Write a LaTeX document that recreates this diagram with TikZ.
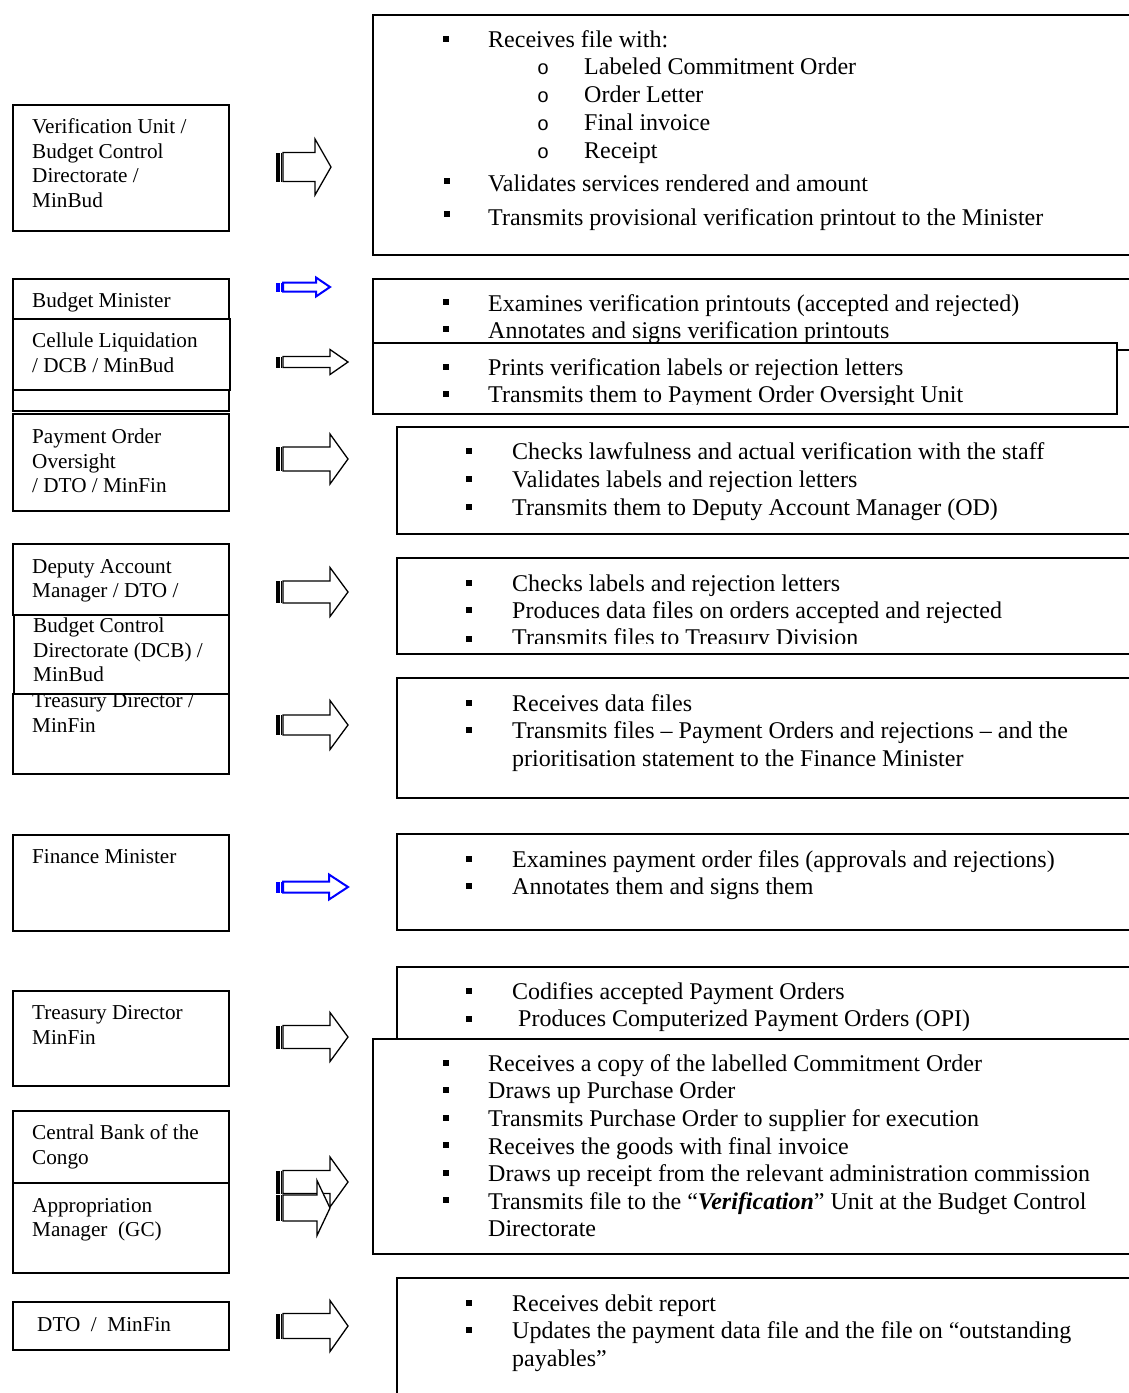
\documentclass[tikz,border=0pt]{standalone}
\usepackage{fontspec}
\setmainfont{Liberation Serif}
\newfontfamily\bulfont{Liberation Mono}
\newcommand{\blkarrow}[7]{%
  \path[#1, draw, fill=white, line join=miter] (#2+7,#4-#5) -- (#7,#4-#5) -- (#7,#4-#6) -- (#3,#4) -- (#7,#4+#6) -- (#7,#4+#5) -- (#2+7,#4+#5) -- cycle;
  \fill[#1] (#2,#4-#5) rectangle (#2+3.6,#4+#5);
  \draw[#1, line width=1pt] (#2+5.4,#4-#5) -- (#2+5.4,#4+#5);
}
\begin{document}
\begin{tikzpicture}[x=1pt,y=-1pt,
  box/.style={draw=black, line width=1.5pt, fill=white, inner sep=0pt, anchor=north west},
  rt/.style={anchor=base west, inner sep=0pt, font=\fontsize{24}{27.6}\selectfont},
  ob/.style={anchor=base west, inner sep=0pt, font=\bulfont\fontsize{20}{24}\selectfont},
  lt/.style={anchor=base west, inner sep=0pt, font=\fontsize{21.2}{24.4}\selectfont},
  bul/.style={fill=black, inner sep=0pt, minimum width=5.5pt, minimum height=6.5pt},
  blk/.style={black, line width=1.3pt},
  blu/.style={blue, line width=2pt}]
\useasboundingbox (0,0) rectangle (1129,1393);
\clip (0,0) rectangle (1129,1393);

% ---------------- left column ----------------
\node[box, minimum width=216pt, minimum height=126pt] (lverif) at (12,104) {};
\node[lt] (tv1) at (32,133) {Verification Unit /};
\node[lt] (tv2) at (32,158) {Budget Control};
\node[lt] (tv3) at (32,182) {Directorate /};
\node[lt] (tv4) at (32,207) {MinBud};

\node[box, minimum width=216pt, minimum height=132pt] (lbm) at (12,278) {};
\node[lt] (tbm) at (32,307) {Budget Minister};
\node[box, minimum width=217pt, minimum height=71pt] (lcell) at (12,318) {};
\node[lt] (tc1) at (32,347) {Cellule Liquidation};
\node[lt] (tc2) at (32,372) {/ DCB / MinBud};

\node[box, minimum width=216pt, minimum height=97pt] (lpo) at (12,413) {};
\node[lt] (tp1) at (32,443) {Payment Order};
\node[lt] (tp2) at (32,468) {Oversight};
\node[lt] (tp3) at (32,492) {/ DTO / MinFin};

\node[box, minimum width=216pt, minimum height=80pt] (ltd) at (12,693) {};
\node[lt] (tt1) at (32,707) {Treasury Director /};
\node[lt] (tt2) at (32,732) {MinFin};
\node[box, minimum width=216pt, minimum height=71pt] (ldam) at (12,543) {};
\node[lt] (td1) at (32,573) {Deputy Account};
\node[lt] (td2) at (32,597) {Manager / DTO /};
\node[box, minimum width=215pt, minimum height=79pt] (ldcb) at (13,614) {};
\node[lt] (tb1) at (33,632) {Budget Control};
\node[lt] (tb2) at (33,657) {Directorate (DCB) /};
\node[lt] (tb3) at (33,681) {MinBud};

\node[box, minimum width=216pt, minimum height=96pt] (lfm) at (12,834) {};
\node[lt] (tf1) at (32,863) {Finance Minister};

\node[box, minimum width=216pt, minimum height=95pt] (ltd2) at (12,990) {};
\node[lt] (tr1) at (32,1019) {Treasury Director};
\node[lt] (tr2) at (32,1044) {MinFin};

\node[box, minimum width=216pt, minimum height=72pt] (lcb) at (12,1110) {};
\node[lt] (tk1) at (32,1139) {Central Bank of the};
\node[lt] (tk2) at (32,1164) {Congo};
\node[box, minimum width=216pt, minimum height=90pt] (lam) at (12,1182) {};
\node[lt] (ta1) at (32,1212) {Appropriation};
\node[lt] (ta2) at (32,1236) {Manager~~(GC)};

\node[box, minimum width=216pt, minimum height=48pt] (ldto) at (12,1301) {};
\node[lt] (tdto) at (37,1331) {DTO~~/~~MinFin};

% ---------------- arrows ----------------
\blkarrow{blk}{276}{331}{167}{14.5}{28}{315}
\blkarrow{blu}{276}{330}{287}{4.5}{9.5}{316}
\blkarrow{blk}{276}{348}{362}{5.5}{12.5}{330}
\blkarrow{blk}{276}{348}{459}{12}{25}{330}
\blkarrow{blk}{276}{348}{592}{11}{24.5}{330}
\blkarrow{blk}{276}{348}{725}{10}{24.5}{330}
\blkarrow{blu}{276}{348}{887}{5.5}{12.5}{329}
\blkarrow{blk}{276}{348}{1037}{11.5}{24.5}{330}
\blkarrow{blk}{276}{348}{1182}{11.5}{25}{330}
\blkarrow{blk}{276}{330}{1208}{13}{27.5}{317}
\blkarrow{blk}{276}{348}{1326}{12.5}{25.5}{330}

% ---------------- right column ----------------
\node[box, minimum width=780pt, minimum height=240pt] (r1) at (372,14) {};
\node[bul] (b11) at (446,39) {};
\node[rt] (r1a) at (488,47) {Receives file with:};
\node[ob] (o1) at (537,74) {o};
\node[rt] (r1b) at (584,74) {Labeled Commitment Order};
\node[ob] (o2) at (537,102) {o};
\node[rt] (r1c) at (584,102) {Order Letter};
\node[ob] (o3) at (537,130) {o};
\node[rt] (r1d) at (584,130) {Final invoice};
\node[ob] (o4) at (537,158) {o};
\node[rt] (r1e) at (584,158) {Receipt};
\node[bul] (b12) at (447,181) {};
\node[rt] (r1f) at (488,191) {Validates services rendered and amount};
\node[bul] (b13) at (447,214) {};
\node[rt] (r1g) at (488,225) {Transmits provisional verification printout to the Minister};

\node[box, minimum width=780pt, minimum height=71pt] (r2) at (372,278) {};
\node[bul] (b21) at (446,302) {};
\node[rt] (r2a) at (488,311) {Examines verification printouts (accepted and rejected)};
\node[bul] (b22) at (446,329) {};
\node[rt] (r2b) at (488,338) {Annotates and signs verification printouts};
\node[box, minimum width=744pt, minimum height=71pt] (r3) at (372,342) {};
\node[bul] (b31) at (446,367) {};
\node[rt] (r3a) at (488,375) {Prints verification labels or rejection letters};
\node[bul] (b32) at (446,394) {};
\begin{scope}
\clip (372,342) rectangle (1116,404);
\node[rt] (r3b) at (488,402) {Transmits them to Payment Order Oversight Unit};
\end{scope}

\node[box, minimum width=760pt, minimum height=107pt] (r4) at (396,426) {};
\node[bul] (b41) at (469,451) {};
\node[rt] (r4a) at (512,459) {Checks lawfulness and actual verification with the staff};
\node[bul] (b42) at (469,479) {};
\node[rt] (r4b) at (512,487) {Validates labels and rejection letters};
\node[bul] (b43) at (469,507) {};
\node[rt] (r4c) at (512,515) {Transmits them to Deputy Account Manager (OD)};

\node[box, minimum width=760pt, minimum height=96pt] (r5) at (396,557) {};
\node[bul] (b51) at (469,583) {};
\node[rt] (r5a) at (512,591) {Checks labels and rejection letters};
\node[bul] (b52) at (469,610) {};
\node[rt] (r5b) at (512,618) {Produces data files on orders accepted and rejected};
\begin{scope}
\clip (396,557) rectangle (1129,643);
\node[bul] (b53) at (469,639) {};
\node[rt] (r5c) at (512,645) {Transmits files to Treasury Division};
\end{scope}

\node[box, minimum width=760pt, minimum height=120pt] (r6) at (396,677) {};
\node[bul] (b61) at (469,703) {};
\node[rt] (r6a) at (512,711) {Receives data files};
\node[bul] (b62) at (469,730) {};
\node[rt] (r6b) at (512,738) {Transmits files – Payment Orders and rejections – and the};
\node[rt] (r6c) at (512,766) {prioritisation statement to the Finance Minister};

\node[box, minimum width=760pt, minimum height=96pt] (r7) at (396,833) {};
\node[bul] (b71) at (469,859) {};
\node[rt] (r7a) at (512,867) {Examines payment order files (approvals and rejections)};
\node[bul] (b72) at (469,886) {};
\node[rt] (r7b) at (512,894) {Annotates them and signs them};

\node[box, minimum width=760pt, minimum height=100pt] (r8) at (396,966) {};
\node[bul] (b81) at (469,991) {};
\node[rt] (r8a) at (512,999) {Codifies accepted Payment Orders};
\node[bul] (b82) at (469,1019) {};
\node[rt] (r8b) at (518,1026) {Produces Computerized Payment Orders (OPI)};

\node[box, minimum width=780pt, minimum height=215pt] (r9) at (372,1038) {};
\node[bul] (b91) at (446,1063) {};
\node[rt] (r9a) at (488,1071) {Receives a copy of the labelled Commitment Order};
\node[bul] (b92) at (446,1090) {};
\node[rt] (r9b) at (488,1098) {Draws up Purchase Order};
\node[bul] (b93) at (446,1118) {};
\node[rt] (r9c) at (488,1126) {Transmits Purchase Order to supplier for execution};
\node[bul] (b94) at (446,1145) {};
\node[rt] (r9d) at (488,1154) {Receives the goods with final invoice};
\node[bul] (b95) at (446,1173) {};
\node[rt] (r9e) at (488,1181) {Draws up receipt from the relevant administration commission};
\node[bul] (b96) at (446,1200) {};
\node[rt] (r9f) at (488,1209) {Transmits file to the “\textbf{\textit{Verification}}” Unit at the Budget Control};
\node[rt] (r9g) at (488,1236) {Directorate};

\node[box, minimum width=760pt, minimum height=140pt] (r10) at (396,1277) {};
\node[bul] (b101) at (469,1303) {};
\node[rt] (r10a) at (512,1311) {Receives debit report};
\node[bul] (b102) at (469,1330) {};
\node[rt] (r10b) at (512,1338) {Updates the payment data file and the file on “outstanding};
\node[rt] (r10c) at (512,1366) {payables”};
\end{tikzpicture}
\end{document}
